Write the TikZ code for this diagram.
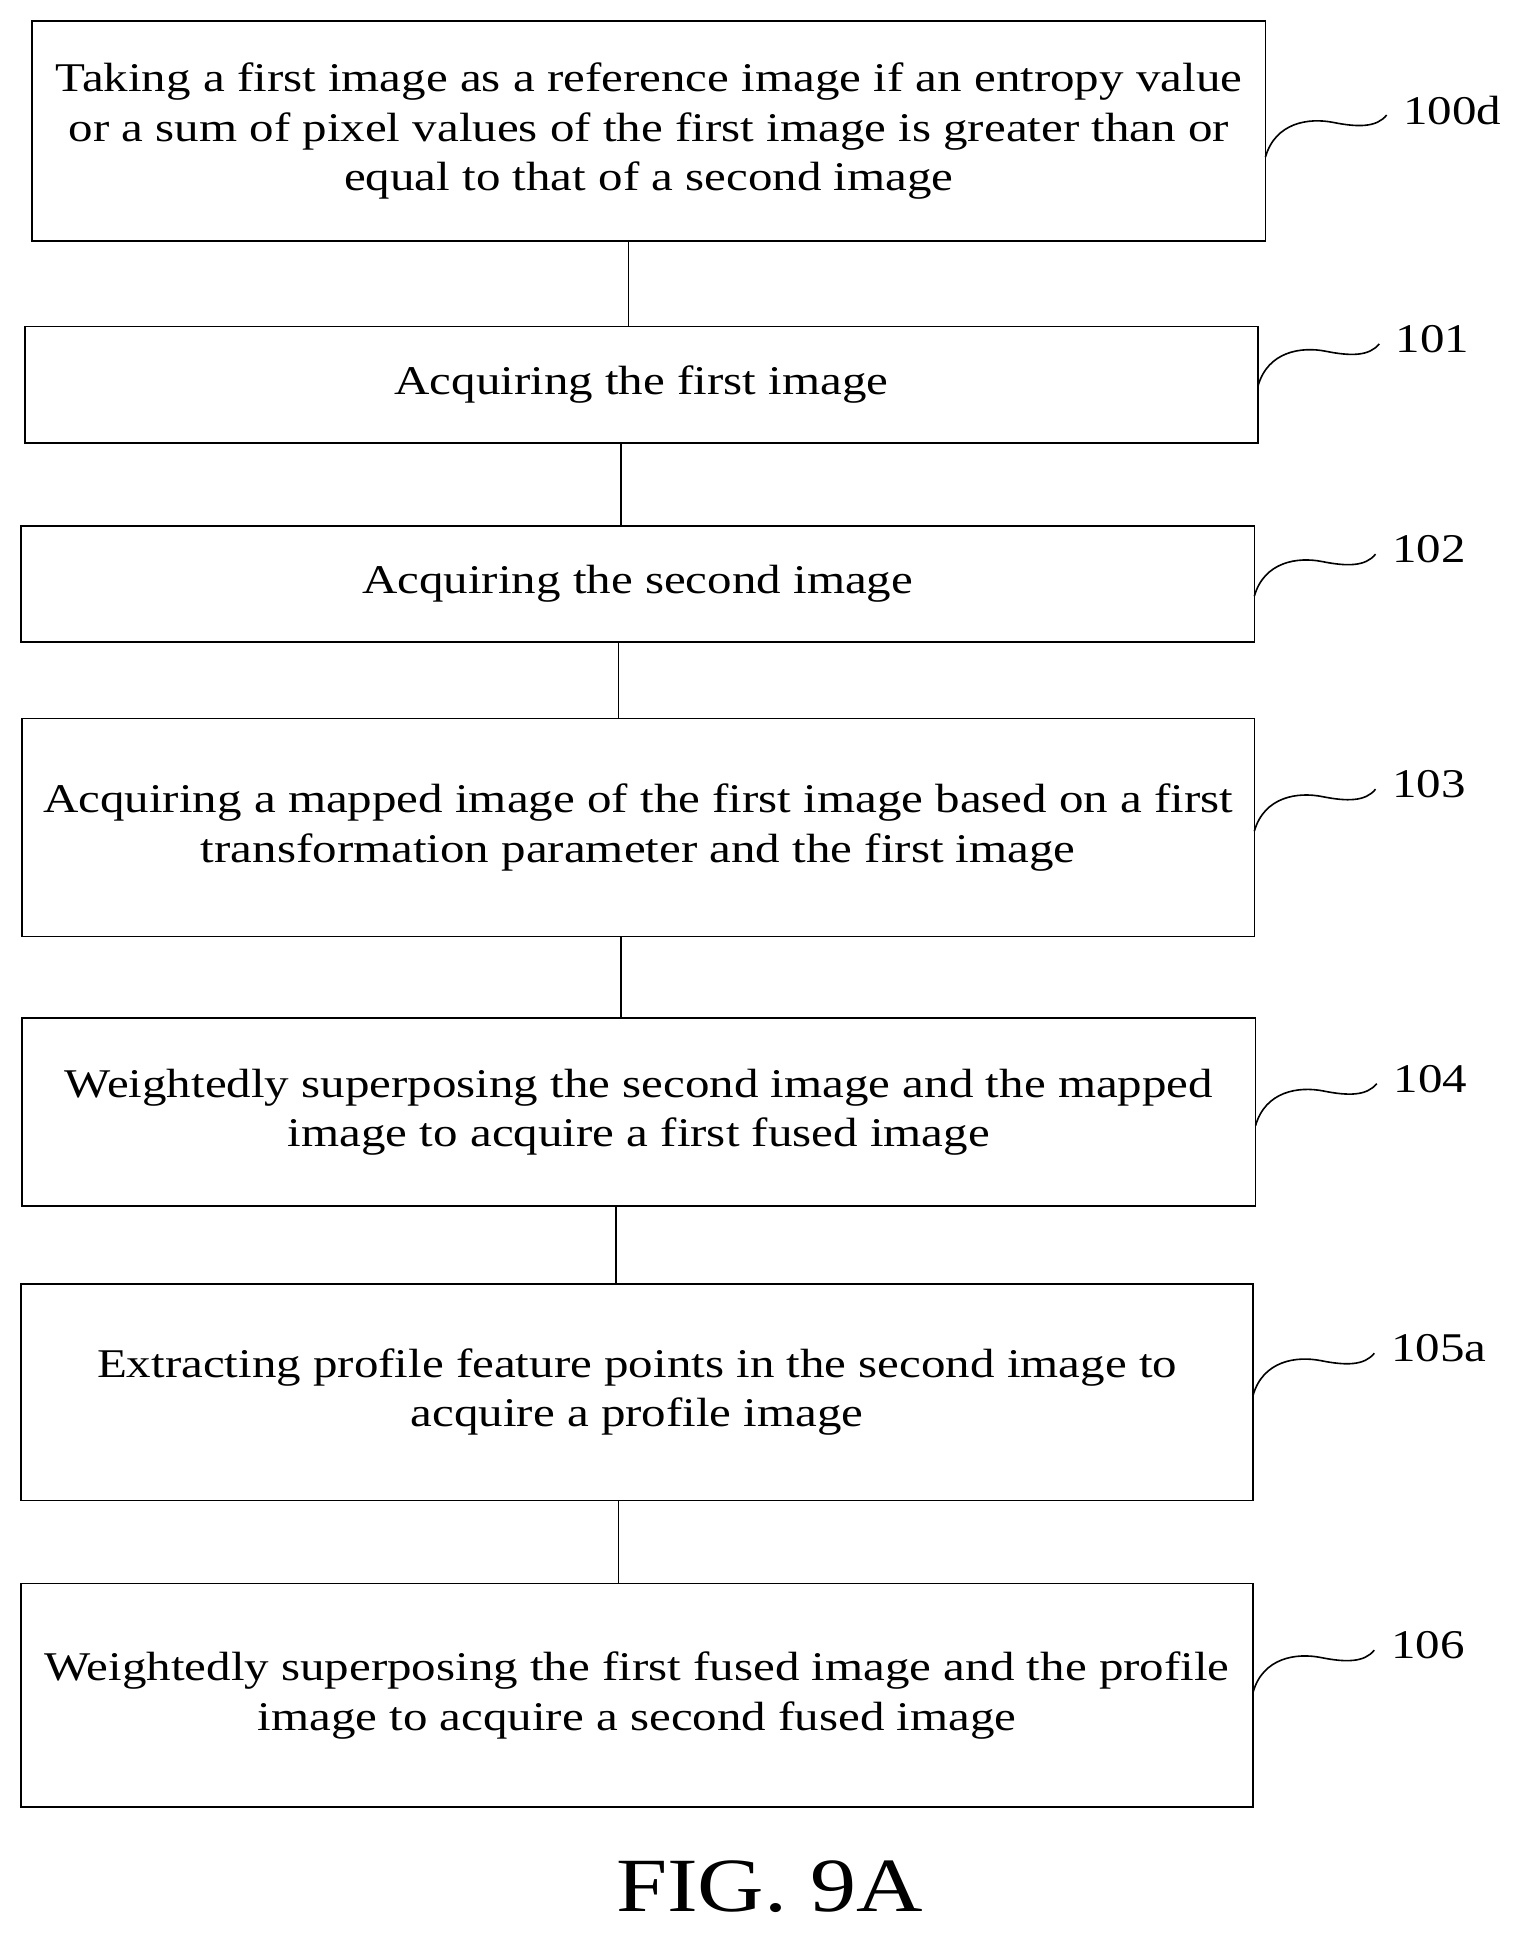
\documentclass[tikz,border=0pt]{standalone}
\usepackage{fontspec}
\setmainfont[FakeStretch=1.2]{Liberation Serif}
\begin{document}
\begin{tikzpicture}[x=1pt,y=-1pt,
  box/.style={draw,line width=1.3pt,inner sep=0pt},
  txt/.style={align=center,font=\fontsize{33}{40}\selectfont},
  lab/.style={font=\fontsize{33}{40}\selectfont},
  con/.style={line width=1.3pt},
  sq/.style={line width=1.3pt}]
\useasboundingbox (0,0) rectangle (1240,1574);
\def\bx#1#2#3#4#5#6{\draw[box] (#2,#4) rectangle (#3,#5); \node[txt] (#1) at ({(#2+#3)/2},{(#4+#5)/2}) {#6};
  \coordinate (#1t) at ({(#2+#3)/2},#4); \coordinate (#1b) at ({(#2+#3)/2},#5);}
\bx{a}{26}{1023}{17}{195}{Taking a first image as a reference image if an entropy value\\or a sum of pixel values of the first image is greater than or\\equal to that of a second image}
\bx{b}{20}{1017}{264}{358}{Acquiring the first image}
\bx{c}{17}{1014}{425}{519}{Acquiring the second image}
\bx{d}{18}{1014}{581}{757}{Acquiring a mapped image of the first image based on a first\\transformation parameter and the first image}
\bx{e}{18}{1015}{823}{975}{Weightedly superposing the second image and the mapped\\image to acquire a first fused image}
\bx{f}{17}{1013}{1038}{1213}{Extracting profile feature points in the second image to\\acquire a profile image}
\bx{g}{17}{1013}{1280}{1461}{Weightedly superposing the first fused image and the profile\\image to acquire a second fused image}
\draw[con] (508,195) -- (508,264);
\draw[con] (502,358) -- (502,425);
\draw[con] (500,519) -- (500,581);
\draw[con] (502,757) -- (502,823);
\draw[con] (498,975) -- (498,1038);
\draw[con] (500,1213) -- (500,1280);
\def\sqg#1#2#3#4{\draw[sq] (#1,#2) .. controls (#1+8,#2-28) and (#1+35,#2-32) .. (#1+55,#2-28) .. controls (#1+75,#2-24) and (#1+90,#2-24) .. (#1+98,#2-34);
  \node[lab,anchor=west] at (#1+108,#2-38) {#3};}
\sqg{1023}{127}{100d}{}
\sqg{1017}{312}{101}{}
\sqg{1014}{482}{102}{}
\sqg{1014}{672}{103}{}
\sqg{1015}{910}{104}{}
\sqg{1013}{1128}{105a}{}
\sqg{1013}{1368}{106}{}
\node[font=\fontsize{62}{70}\selectfont] (fig) at (622,1525) {FIG. 9A};
\end{tikzpicture}
\end{document}
